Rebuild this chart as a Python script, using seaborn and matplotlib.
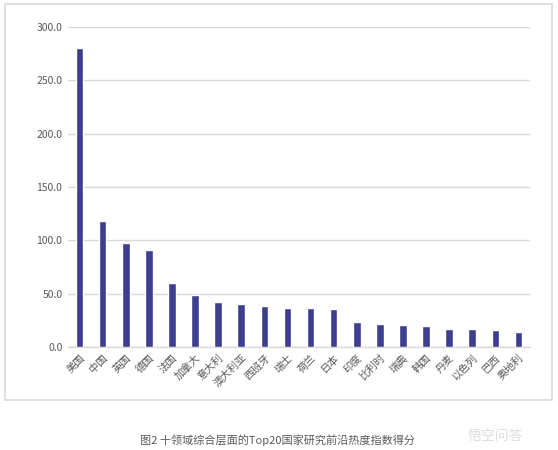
import matplotlib
matplotlib.use("Agg")
import matplotlib.pyplot as plt
import seaborn as sns
import pandas as pd
from matplotlib.patches import Rectangle

# Top20 countries and their scores
countries = ['美国', '中国', '英国', '德国', '法国', '加拿大', '意大利', '澳大利亚', '西班牙', '瑞士',
             '荷兰', '日本', '印度', '比利时', '瑞典', '韩国', '丹麦', '以色列', '巴西', '奥地利']
scores = [280.3, 118.5, 97.3, 91.0, 60.2, 48.3, 42.2, 40.1, 38.3, 37.0,
          36.5, 35.8, 23.0, 22.0, 20.6, 20.0, 16.9, 16.7, 15.5, 14.5]
y_ticks = [0, 50, 100, 150, 200, 250, 300]
caption = '图2 十领域综合层面的Top20国家研究前沿热度指数得分'

sns.set_theme(style="white")
plt.rcParams['font.family'] = ['Noto Sans CJK SC', 'DejaVu Sans']

df = pd.DataFrame({'country': countries, 'score': scores})

fig = plt.figure(figsize=(5.58, 4.5), dpi=100)
ax = fig.add_axes([68 / 558, 1 - 347 / 450, 462 / 558, 320 / 450])

sns.barplot(data=df, x='country', y='score', color='#3d3f8e', width=0.33,
            saturation=1, ax=ax, zorder=3)

ax.set_ylim(0, 300)
ax.set_xlim(-0.5, len(countries) - 0.5)
ax.set_yticks(y_ticks)
ax.set_yticklabels([f'{v:.1f}' for v in y_ticks], fontsize=7.5, color='#595959')
ax.set_xticks(range(len(countries)))
ax.set_xticklabels(countries, rotation=45, ha='right', rotation_mode='anchor',
                   fontsize=7.5, color='#595959')
ax.tick_params(axis='both', length=0, pad=4)
ax.set_xlabel('')
ax.set_ylabel('')
ax.grid(axis='y', color='#d9d9d9', linewidth=1, zorder=0)
for side in ['top', 'right', 'left']:
    ax.spines[side].set_visible(False)
ax.spines['bottom'].set_color('#d9d9d9')
ax.spines['bottom'].set_linewidth(1)

# light frame around the chart
fig.patches.append(Rectangle((5 / 558, 1 - 400 / 450), 547 / 558, 396 / 450,
                             transform=fig.transFigure, fill=False,
                             edgecolor='#d9d9d9', linewidth=1.2))

fig.text(278 / 558, 1 - 440 / 450, caption, ha='center', va='center',
         fontsize=8, color='#595959')
fig.text(495 / 558, 1 - 436 / 450, '悟空问答', ha='center', va='center',
         fontsize=10, color='#dddddd')

fig.savefig('out.png', dpi=100, facecolor='white')
